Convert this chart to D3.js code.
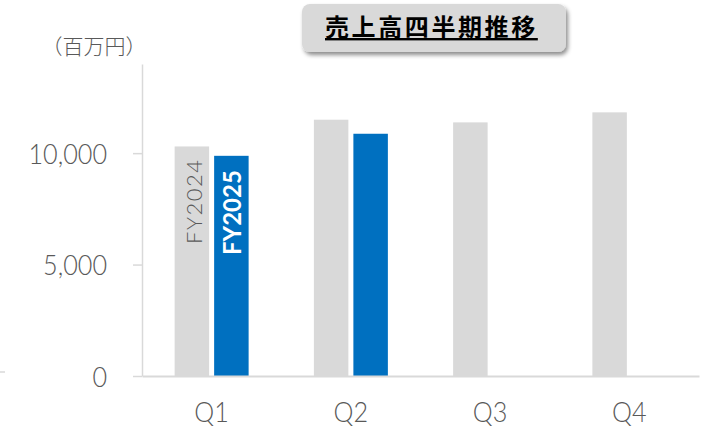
<!DOCTYPE html>
<html>
<head>
<meta charset="utf-8">
<script src="https://cdn.jsdelivr.net/npm/d3@7"></script>
<style>
  html, body { margin: 0; padding: 0; background: #fff; }
  svg { display: block; font-family: Lato, "Noto Sans CJK JP", sans-serif; }
  .cjk { font-family: "Noto Sans CJK JP", sans-serif; }
</style>
</head>
<body>
<div id="chart"></div>
<script>
const categories = ["Q1", "Q2", "Q3", "Q4"];
const series = ["FY2024", "FY2025"];
const fy2024 = [10300, 11500, 11380, 11830];
const fy2025 = [9880, 10870, null, null];
const yTicks = [0, 5000, 10000];
const title = "売上高四半期推移";
const unitLabel = "（百万円）";

const width = 711;
const height = 431;
const colors = { FY2024: "#d9d9d9", FY2025: "#0070c0" };
const smal = 0.9; // lettertype iets smaller maken

const svg = d3.select("#chart")
  .append("svg")
  .attr("width", width)
  .attr("height", height);

const x = d3.scaleBand()
  .domain(categories)
  .range([142, 699]);

const x1 = d3.scaleBand()
  .domain(series)
  .range([0, x.bandwidth()])
  .paddingInner(0.127)
  .paddingOuter(0.826);

const y = d3.scaleLinear()
  .domain([0, 14000])
  .range([376, 64]);

// Y-as
const yAxis = svg.append("g")
  .attr("transform", "translate(142,0)")
  .call(d3.axisLeft(y).tickValues(yTicks).tickSize(9).tickSizeOuter(0).tickPadding(26)
    .tickFormat(d3.format(",")))
  .attr("font-family", null)
  .attr("font-size", null);
yAxis.select(".domain").attr("stroke", "#d9d9d9").attr("stroke-width", 1.5);
yAxis.selectAll(".tick line").attr("stroke", "#d9d9d9").attr("stroke-width", 1.5);
yAxis.selectAll(".tick text")
  .attr("fill", "#595959")
  .attr("x", 0)
  .attr("dy", "0.36em")
  .attr("transform", `translate(-35,0) scale(${smal},1)`)
  .style("font-size", "28px")
  .style("font-weight", 300);

// staven
const rows = categories.map((c, i) => ({ cat: c, FY2024: fy2024[i], FY2025: fy2025[i] }));
const groups = svg.append("g")
  .selectAll("g")
  .data(rows)
  .join("g")
  .attr("transform", d => `translate(${x(d.cat)},0)`);

groups.selectAll("rect")
  .data(d => series.filter(s => d[s] != null).map(s => ({ key: s, value: d[s] })))
  .join("rect")
  .attr("x", d => x1(d.key))
  .attr("width", x1.bandwidth())
  .attr("y", d => y(d.value))
  .attr("height", d => y(0) - y(d.value))
  .attr("fill", d => colors[d.key]);

// X-as
const xAxis = svg.append("g")
  .attr("transform", `translate(0,${y(0)})`)
  .call(d3.axisBottom(x).tickSize(0).tickSizeOuter(0))
  .attr("font-family", null)
  .attr("font-size", null);
xAxis.select(".domain").attr("stroke", "#d9d9d9").attr("stroke-width", 2);
xAxis.selectAll(".tick text")
  .attr("fill", "#595959")
  .attr("y", 0)
  .attr("dy", 0)
  .attr("transform", `translate(0,46) scale(${smal},1)`)
  .style("font-size", "28px")
  .style("font-weight", 300);

// serie labels in de eerste groep
const first = rows[0];
svg.append("text")
  .attr("transform", `translate(${x(first.cat) + x1("FY2024") + 27},${y(0) - 132}) rotate(-90)`)
  .attr("fill", "#595959")
  .style("font-size", "22px")
  .style("font-weight", 300)
  .style("letter-spacing", "1.5px")
  .text("FY2024");
svg.append("text")
  .attr("transform", `translate(${x(first.cat) + x1("FY2025") + 27},${y(0) - 121}) rotate(-90)`)
  .attr("fill", "#fff")
  .style("font-size", "24px")
  .style("font-weight", 700)
  .text("FY2025");

// eenheid
svg.append("text")
  .attr("class", "cjk")
  .attr("x", 94)
  .attr("y", 54)
  .attr("text-anchor", "middle")
  .attr("fill", "#595959")
  .style("font-size", "21px")
  .style("font-weight", 300)
  .text(unitLabel);

// klein streepje links
svg.append("line")
  .attr("x1", 0).attr("x2", 5)
  .attr("y1", 372).attr("y2", 372)
  .attr("stroke", "#d9d9d9").attr("stroke-width", 1.5);

// titel
const defs = svg.append("defs");
const f = defs.append("filter").attr("id", "schaduw").attr("x", "-10%").attr("y", "-30%").attr("width", "120%").attr("height", "170%");
f.append("feDropShadow").attr("dx", 2).attr("dy", 3).attr("stdDeviation", 2).attr("flood-color", "#000").attr("flood-opacity", 0.45);

svg.append("rect")
  .attr("x", 302).attr("y", 4)
  .attr("width", 264).attr("height", 48)
  .attr("rx", 8)
  .attr("fill", "#d9d9d9")
  .attr("filter", "url(#schaduw)");

svg.append("text")
  .attr("class", "cjk")
  .attr("x", 325)
  .attr("y", 36)
  .attr("fill", "#000")
  .style("font-size", "24px")
  .style("font-weight", 700)
  .style("letter-spacing", "2.6px")
  .style("text-decoration", "underline")
  .text(title);
</script>
</body>
</html>
